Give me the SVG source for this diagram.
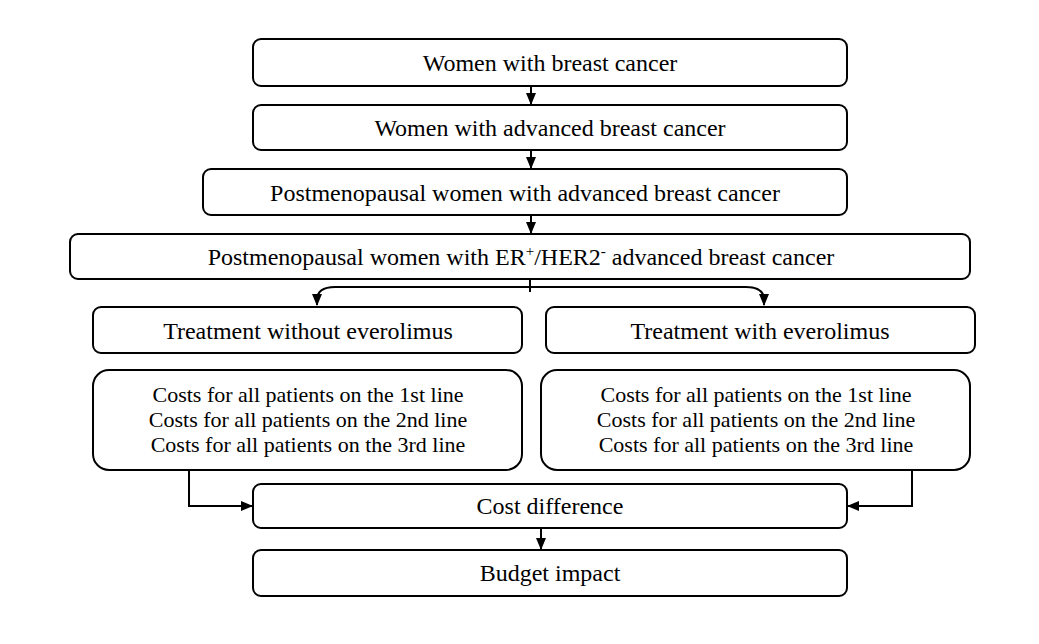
<svg xmlns="http://www.w3.org/2000/svg" width="1039" height="644" viewBox="0 0 1039 644">
<style>
.box{fill:#fff;stroke:#000;stroke-width:2}
.t{font-family:"Liberation Serif","Times New Roman",serif;font-size:24px;fill:#000;text-anchor:middle}
.s{font-family:"Liberation Serif","Times New Roman",serif;font-size:22px;fill:#000;text-anchor:middle}
.c{fill:none;stroke:#000;stroke-width:2}
</style>
<defs>
<marker id="ah" viewBox="0 0 12 10" refX="11" refY="5" markerWidth="12" markerHeight="10" markerUnits="userSpaceOnUse" orient="auto">
<path d="M0,0 L12,5 L0,10 Z" fill="#000"/>
</marker>
</defs>
<rect width="1039" height="644" fill="#fff"/>
<g id="connectors">
<path class="c" d="M531,86 V104" marker-end="url(#ah)"/>
<path class="c" d="M531,150 V168" marker-end="url(#ah)"/>
<path class="c" d="M531,215 V233" marker-end="url(#ah)"/>
<path class="c" d="M530,279 V292"/>
<path class="c" d="M530,287 H335 Q317,287 317,300 V305" marker-end="url(#ah)"/>
<path class="c" d="M530,287 H746 Q764,287 764,300 V305" marker-end="url(#ah)"/>
<path class="c" d="M189,470 V506 H252" marker-end="url(#ah)"/>
<path class="c" d="M912,470 V506 H848" marker-end="url(#ah)"/>
<path class="c" d="M541,528 V549" marker-end="url(#ah)"/>
</g>
<g id="n1"><rect class="box" x="253" y="39" width="594" height="47" rx="8"/><text class="t" x="550" y="71">Women with breast cancer</text></g>
<g id="n2"><rect class="box" x="253" y="105" width="594" height="45" rx="8"/><text class="t" x="550" y="136">Women with advanced breast cancer</text></g>
<g id="n3"><rect class="box" x="203" y="169" width="644" height="46" rx="8"/><text class="t" x="525" y="201">Postmenopausal women with advanced breast cancer</text></g>
<g id="n4"><rect class="box" x="70" y="234" width="900" height="45" rx="8"/><text class="t" x="521" y="265">Postmenopausal women with ER<tspan font-size="15" dy="-9">+</tspan><tspan dy="9">/HER2</tspan><tspan font-size="15" dy="-9">-</tspan><tspan dy="9"> advanced breast cancer</tspan></text></g>
<g id="n5"><rect class="box" x="93" y="307" width="429" height="46" rx="8"/><text class="t" x="308" y="339">Treatment without everolimus</text></g>
<g id="n6"><rect class="box" x="546" y="307" width="429" height="46" rx="8"/><text class="t" x="760" y="339">Treatment with everolimus</text></g>
<g id="n7"><rect class="box" x="93" y="370" width="429" height="100" rx="16"/>
<text class="s" x="308" y="402">Costs for all patients on the 1st line</text>
<text class="s" x="308" y="427">Costs for all patients on the 2nd line</text>
<text class="s" x="308" y="452">Costs for all patients on the 3rd line</text></g>
<g id="n8"><rect class="box" x="541" y="370" width="429" height="100" rx="16"/>
<text class="s" x="756" y="402">Costs for all patients on the 1st line</text>
<text class="s" x="756" y="427">Costs for all patients on the 2nd line</text>
<text class="s" x="756" y="452">Costs for all patients on the 3rd line</text></g>
<g id="n9"><rect class="box" x="253" y="484" width="594" height="44" rx="8"/><text class="t" x="550" y="514">Cost difference</text></g>
<g id="n10"><rect class="box" x="253" y="550" width="594" height="46" rx="8"/><text class="t" x="550" y="581">Budget impact</text></g>
</svg>
